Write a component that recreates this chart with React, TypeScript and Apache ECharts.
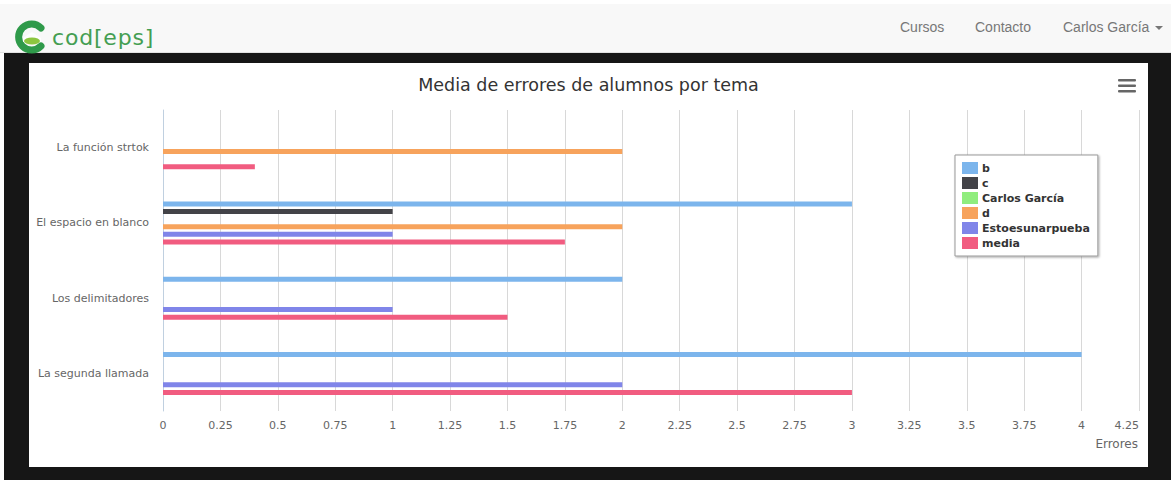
import React, { useEffect, useRef } from "react";
import * as echarts from "echarts";

const categories = [
  "La función strtok",
  "El espacio en blanco",
  "Los delimitadores",
  "La segunda llamada",
];
const seriesNames = ["b", "c", "Carlos García", "d", "Estoesunarpueba", "media"];
const bValues = [null, 3, 2, 4];
const cValues = [null, 1, null, null];
const carlosValues = [null, null, null, null];
const dValues = [2, 2, null, null];
const estoValues = [null, 1, 1, 2];
const mediaValues = [0.4, 1.75, 1.5, 3];
const seriesColors = ["#7cb5ec", "#434348", "#90ed7d", "#f7a35c", "#8085e9", "#f15c80"];
const xTicks = { min: 0, max: 4.25, interval: 0.25 };
const titleText = "Media de errores de alumnos por tema";
const xAxisTitle = "Errores";
const navLinks = ["Cursos", "Contacto"];
const userName = "Carlos García";

const FONT = '"DejaVu Sans", Verdana, sans-serif';

function Chart() {
  const ref = useRef<HTMLDivElement>(null);
  useEffect(() => {
    if (!ref.current) return;
    const chart = echarts.init(ref.current, undefined, { renderer: "svg" });
    const values = [bValues, cValues, carlosValues, dValues, estoValues, mediaValues];
    chart.setOption({
      animation: false,
      textStyle: { fontFamily: FONT },
      title: {
        text: titleText,
        left: "center",
        top: 8,
        textStyle: { fontSize: 17.5, fontWeight: "normal", color: "#333", fontFamily: FONT },
      },
      grid: { left: 134, right: 9, top: 47, bottom: 56, containLabel: false },
      legend: {
        orient: "vertical",
        left: 926,
        top: 92,
        data: seriesNames,
        icon: "rect",
        itemWidth: 16,
        itemHeight: 12,
        itemGap: 3,
        padding: [7, 8, 7, 7],
        backgroundColor: "#fff",
        borderColor: "#999",
        borderWidth: 1,
        shadowColor: "rgba(0,0,0,0.35)",
        shadowBlur: 2,
        shadowOffsetX: 1,
        shadowOffsetY: 1,
        textStyle: { fontSize: 11, fontWeight: "bold", color: "#333", fontFamily: FONT, padding: [0, 0, 0, -1] },
      },
      xAxis: {
        type: "value",
        min: xTicks.min,
        max: xTicks.max,
        interval: xTicks.interval,
        axisLine: { show: false },
        axisTick: { show: false },
        splitLine: { lineStyle: { color: "#d8d8d8", width: 1 } },
        axisLabel: { color: "#666", fontSize: 11, margin: 9, alignMaxLabel: "right", fontFamily: FONT },
      },
      yAxis: {
        type: "category",
        data: categories,
        inverse: true,
        axisLine: { lineStyle: { color: "#c0d0e0", width: 1 } },
        axisTick: { length: 10, lineStyle: { color: "#c0d0e0" } },
        axisLabel: { color: "#666", fontSize: 11, margin: 14, fontFamily: FONT },
        splitLine: { show: false },
      },
      series: seriesNames.map((name, i) => ({
        name,
        type: "bar",
        data: values[i],
        barWidth: 5,
        barGap: "52%",
        itemStyle: { color: seriesColors[i] },
      })),
      graphic: [
        {
          type: "text",
          right: 10,
          top: 375,
          style: { text: xAxisTitle, fill: "#666", fontSize: 12, fontFamily: FONT },
        },
        { type: "rect", shape: { x: 1089, y: 16, width: 18, height: 2.5, r: 1 }, style: { fill: "#666" } },
        { type: "rect", shape: { x: 1089, y: 21.5, width: 18, height: 2.5, r: 1 }, style: { fill: "#666" } },
        { type: "rect", shape: { x: 1089, y: 27, width: 18, height: 2.5, r: 1 }, style: { fill: "#666" } },
      ],
    });
    return () => chart.dispose();
  }, []);
  return <div ref={ref} style={{ width: 1119, height: 404 }} />;
}

function Logo() {
  return (
    <div style={{ position: "absolute", left: 14, top: 15, display: "flex", alignItems: "center" }}>
      <svg width="34" height="34" viewBox="0 0 34 34">
        <path
          d="M27 8 A13 13 0 1 0 27 26"
          fill="none"
          stroke="#2f9a4a"
          strokeWidth="7"
          strokeLinecap="round"
        />
        <path d="M9 18 L18 12 L27 18 L27 22 L9 22 Z" fill="#fff" opacity="0.85" />
        <ellipse cx="18" cy="21" rx="8" ry="3.5" fill="#8cc63f" />
      </svg>
      <span
        style={{
          marginLeft: 4,
          fontFamily: '"DejaVu Sans", sans-serif',
          fontSize: 22,
          color: "#449e52",
          letterSpacing: 0.8,
          lineHeight: "34px",
          paddingTop: 2,
        }}
      >
        cod[eps]
      </span>
    </div>
  );
}

export default function App() {
  useEffect(() => {
    document.body.style.margin = "0";
  }, []);
  const linkStyle: React.CSSProperties = {
    position: "absolute",
    top: 19,
    fontFamily: '"Liberation Sans", Arial, sans-serif',
    fontSize: 14,
    color: "#777",
  };
  return (
    <div style={{ position: "fixed", left: 0, top: 0, width: 1171, height: 480, background: "#fff", overflow: "hidden" }}>
      <div style={{ position: "absolute", left: 4, top: 53, width: 1167, height: 427, background: "#161616" }} />
      <div
        style={{
          position: "absolute",
          left: 0,
          top: 4,
          width: 1171,
          height: 48,
          background: "#f8f8f8",
          borderBottom: "1px solid #e2e2e2",
        }}
      >
        <Logo />
      </div>
      <span style={{ ...linkStyle, left: 900 }}>{navLinks[0]}</span>
      <span style={{ ...linkStyle, left: 975 }}>{navLinks[1]}</span>
      <span style={{ ...linkStyle, left: 1063 }}>
        {userName}
        <span style={{ display: "inline-block", marginLeft: 6, verticalAlign: "middle", width: 0, height: 0, borderLeft: "4px solid transparent", borderRight: "4px solid transparent", borderTop: "4px solid #777" }} />
      </span>
      <div style={{ position: "absolute", left: 29, top: 63, width: 1119, height: 404, background: "#fff" }}>
        <Chart />
      </div>
    </div>
  );
}
